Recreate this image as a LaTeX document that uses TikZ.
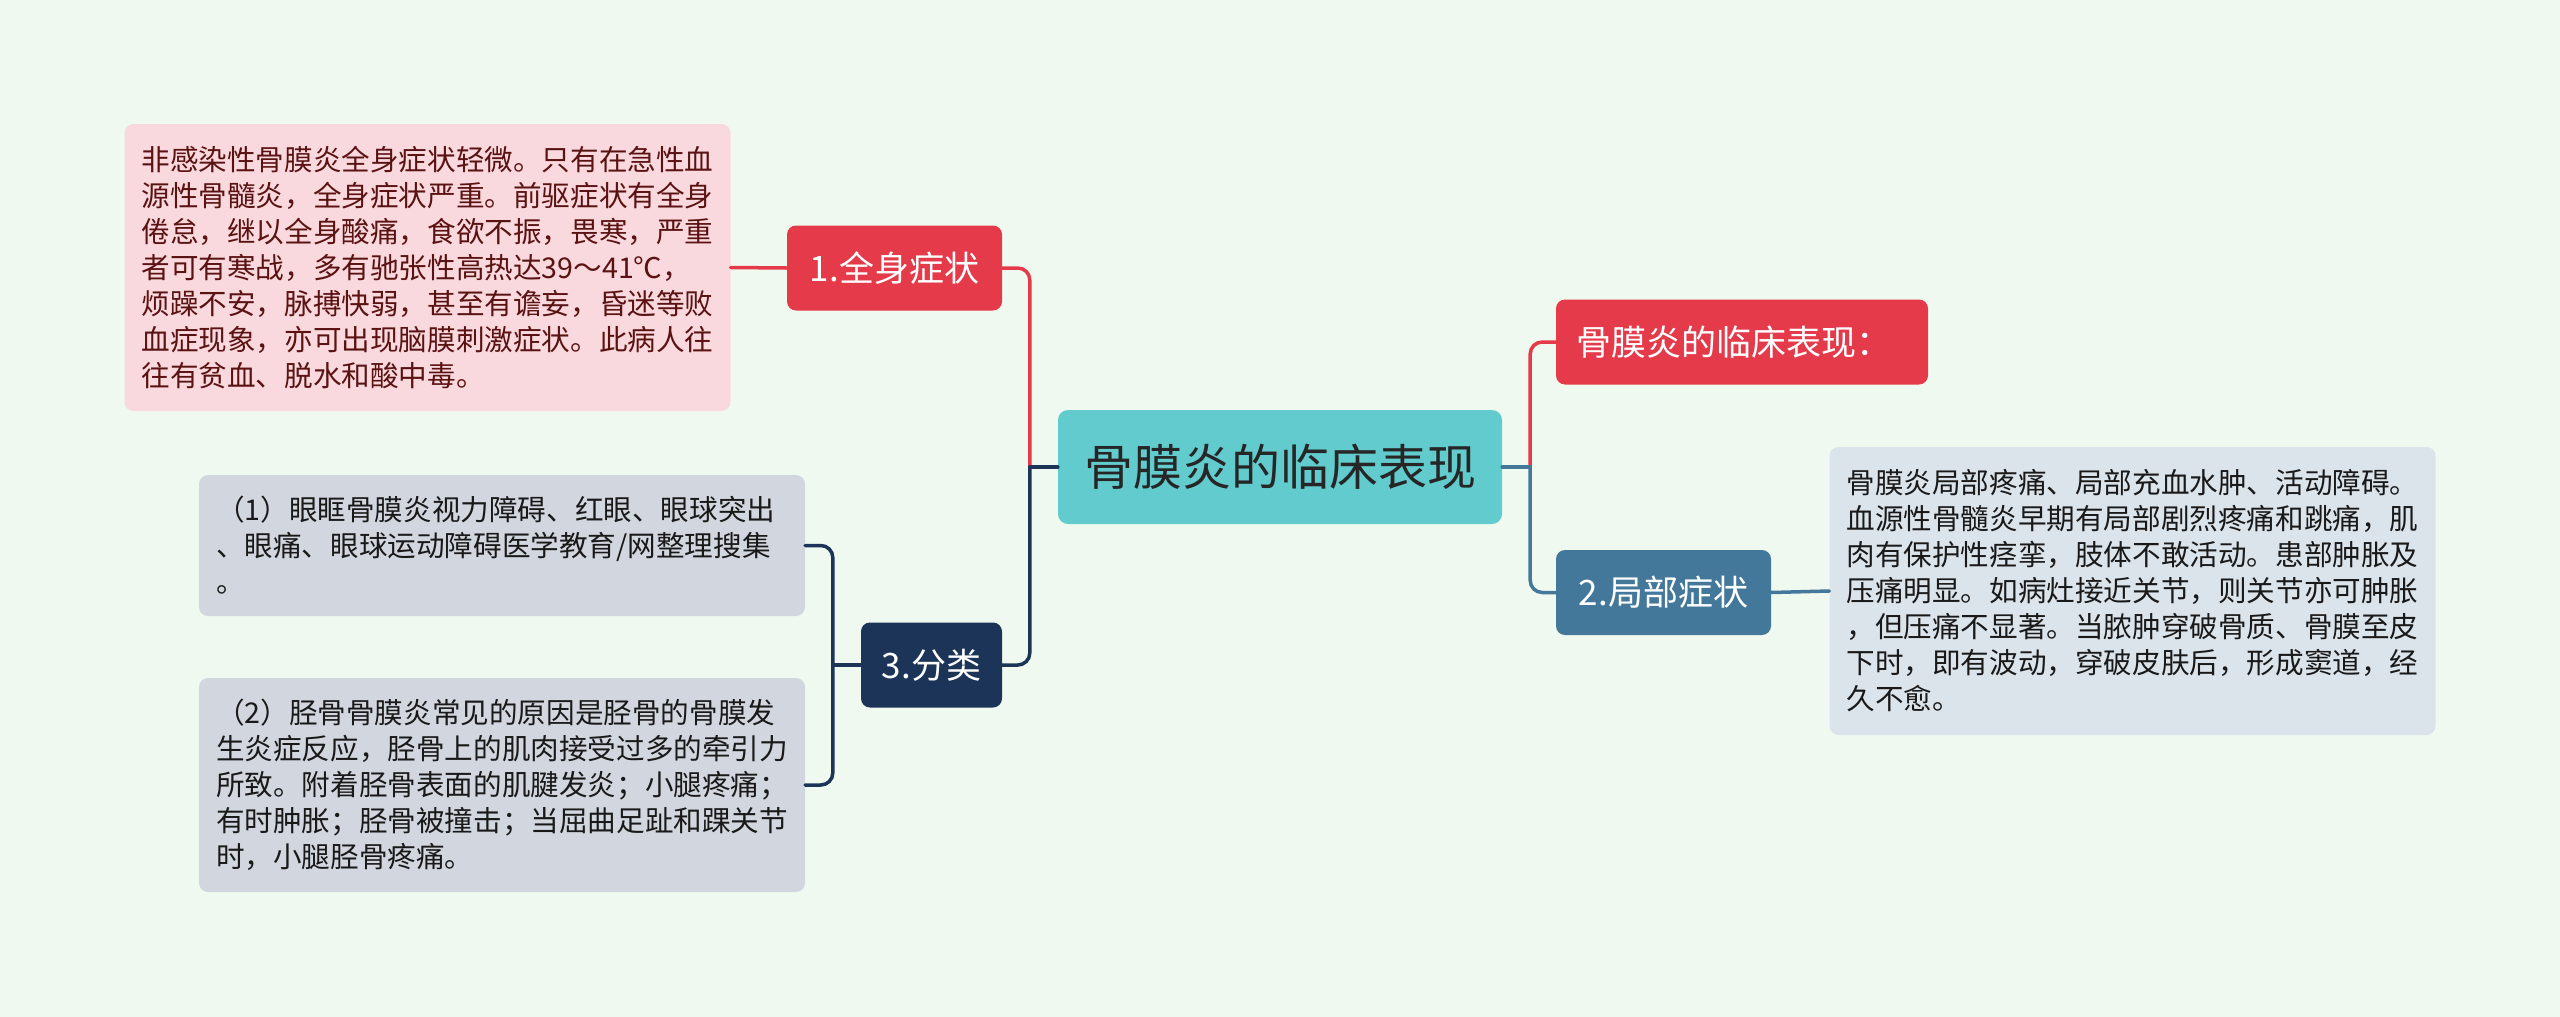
\documentclass[tikz,border=0pt]{standalone}
\usepackage{fontspec}
\setmainfont{Noto Sans CJK SC}
\usepackage{xcolor}
\definecolor{bgmint}{HTML}{F0F9EF}
\definecolor{topicteal}{HTML}{62CBCD}
\definecolor{redbr}{HTML}{E43A4A}
\definecolor{navybr}{HTML}{1C3457}
\definecolor{bluebr}{HTML}{44789B}
\definecolor{pinkfill}{HTML}{F9D9DD}
\definecolor{pinktext}{HTML}{5A1212}
\definecolor{grayfill}{HTML}{D2D7DF}
\definecolor{bluefill}{HTML}{DCE4EB}
\tikzset{topic/.style={fill=topicteal,rounded corners=10pt,minimum width=444pt,
        minimum height=114pt,inner sep=0pt,text=black!85,font=\fontsize{49}{56}\selectfont},
    branch/.style={rounded corners=9pt,minimum height=85pt,inner sep=0pt,
        text=white,font=\fontsize{35}{40}\selectfont},
    leaf/.style={rounded corners=9pt,text width=572pt,inner xsep=17pt,align=left,
        text=black!90,font=\fontsize{28.6}{36}\selectfont},
    link/.style={line width=3.5pt,rounded corners=12pt,line cap=round}}
\begin{document}
\begin{tikzpicture}[x=1pt,y=-1pt]
\useasboundingbox[fill=bgmint] (0,0) rectangle (2560,1017);
\node[topic] (root) at (1280,467) {骨膜炎的临床表现};
\node[branch,fill=redbr,text width=332pt,inner xsep=20pt,align=left] (title) at (1742,342) {骨膜炎的临床表现：};
\node[branch,fill=bluebr,minimum width=215pt] (symloc) at (1663.5,592.5) {2.局部症状};
\node[leaf,fill=bluefill,minimum height=288pt] (symloc-text) at (2132.5,591)
    {骨膜炎局部疼痛、局部充血水肿、活动障碍。\\
     血源性骨髓炎早期有局部剧烈疼痛和跳痛，肌\\
     肉有保护性痉挛，肢体不敢活动。患部肿胀及\\
     压痛明显。如病灶接近关节，则关节亦可肿胀\\
     ，但压痛不显著。当脓肿穿破骨质、骨膜至皮\\
     下时，即有波动，穿破皮肤后，形成窦道，经\\
     久不愈。};
\node[branch,fill=redbr,minimum width=215pt] (symall) at (894.5,268) {1.全身症状};
\node[leaf,fill=pinkfill,text=pinktext,minimum height=287pt] (symall-text) at (427.5,267.5)
    {非感染性骨膜炎全身症状轻微。只有在急性血\\
     源性骨髓炎，全身症状严重。前驱症状有全身\\
     倦怠，继以全身酸痛，食欲不振，畏寒，严重\\
     者可有寒战，多有驰张性高热达39～41℃，\\
     烦躁不安，脉搏快弱，甚至有谵妄，昏迷等败\\
     血症现象，亦可出现脑膜刺激症状。此病人往\\
     往有贫血、脱水和酸中毒。};
\node[branch,fill=navybr,minimum width=141pt] (classify) at (931.5,665) {3.分类};
\node[leaf,fill=grayfill,minimum height=141pt] (cls-eye) at (502,545.5)
    {（1）眼眶骨膜炎视力障碍、红眼、眼球突出\\
     、眼痛、眼球运动障碍医学教育/网整理搜集\\
     。};
\node[leaf,fill=grayfill,minimum height=214pt] (cls-shin) at (502,785)
    {（2）胫骨骨膜炎常见的原因是胫骨的骨膜发\\
     生炎症反应，胫骨上的肌肉接受过多的牵引力\\
     所致。附着胫骨表面的肌腱发炎；小腿疼痛；\\
     有时肿胀；胫骨被撞击；当屈曲足趾和踝关节\\
     时，小腿胫骨疼痛。};
\coordinate (jl) at ([xshift=-28pt]root.west);
\coordinate (jr) at ([xshift=28pt]root.east);
\coordinate (jc) at ([xshift=-28pt]classify.west);
\draw[link,redbr] (jl) |- (symall.east);
\draw[link,navybr] (root.west) -- (jl);
\draw[link,navybr] (jl) |- (classify.east);
\draw[link,redbr] (jr) |- (title.west);
\draw[link,bluebr] (root.east) -- (jr);
\draw[link,bluebr] (jr) |- (symloc.west);
\draw[link,redbr] (symall.west) -- (symall-text.east);
\draw[link,bluebr] (symloc.east) -- (symloc-text.west);
\draw[link,navybr] (classify.west) -- (jc);
\draw[link,navybr] (cls-eye.east) -| (jc) |- (cls-shin.east);
\end{tikzpicture}
\end{document}
